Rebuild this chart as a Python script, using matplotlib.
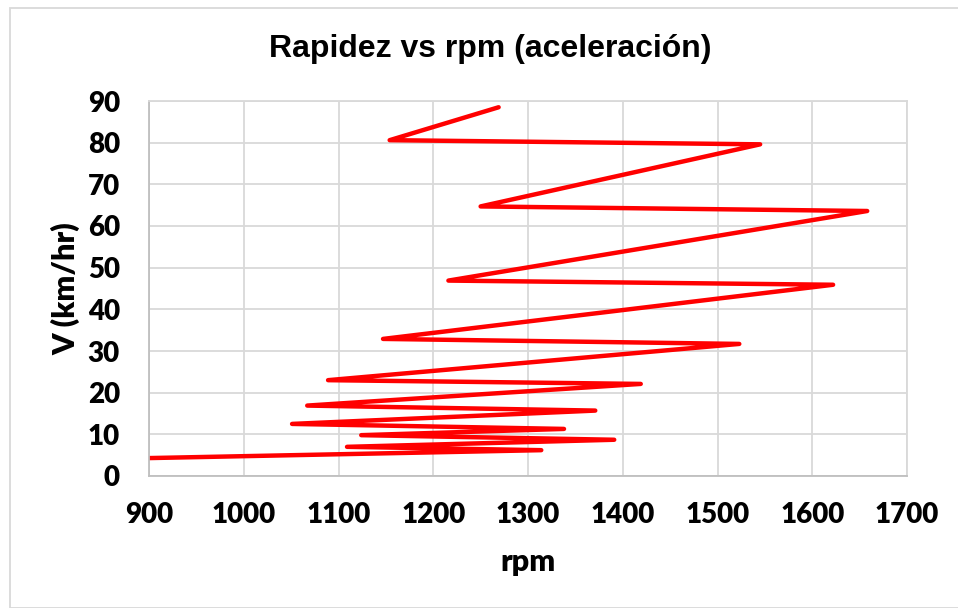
import matplotlib
matplotlib.use("Agg")
import matplotlib.pyplot as plt
from matplotlib.patches import Rectangle

# rpm vs speed readings, in the order they are joined
rpm = [900, 1314, 1109, 1391, 1124, 1338, 1051, 1371, 1067, 1419,
       1089, 1523, 1147, 1622, 1216, 1658, 1250, 1545, 1154, 1269]
speed = [4.3, 6.2, 7.0, 8.7, 9.8, 11.3, 12.5, 15.7, 16.9, 22.1,
         23.0, 31.7, 32.9, 45.9, 46.9, 63.6, 64.7, 79.6, 80.6, 88.5]

x_ticks = list(range(900, 1701, 100))
y_ticks = list(range(0, 91, 10))

fig = plt.figure(figsize=(9.58, 6.08), dpi=100)
ax = fig.add_axes([149 / 958, 132 / 608, 758 / 958, 375 / 608])

ax.plot(rpm, speed, color="#ff0000", linewidth=3.2,
        solid_joinstyle="round", solid_capstyle="round", clip_on=True)

ax.set_xlim(900, 1700)
ax.set_ylim(0, 90)
ax.set_xticks(x_ticks)
ax.set_yticks(y_ticks)
ax.grid(True, color="#d9d9d9", linewidth=1.3)
ax.set_axisbelow(True)
for side in ["top", "right"]:
    ax.spines[side].set_color("#d9d9d9")
    ax.spines[side].set_linewidth(1.3)
for side in ["left", "bottom"]:
    ax.spines[side].set_color("#bfbfbf")
    ax.spines[side].set_linewidth(1.3)

ax.tick_params(axis="x", length=0, pad=19)
ax.tick_params(axis="y", length=0, pad=21)
for lbl in ax.get_xticklabels() + ax.get_yticklabels():
    lbl.set_fontfamily("Lato")
    lbl.set_fontweight("heavy")
    lbl.set_fontsize(20)

ax.set_xlabel("rpm", fontfamily="Lato", fontweight="heavy", fontsize=22)
ax.set_ylabel("V (km/hr)", fontfamily="Lato", fontweight="heavy", fontsize=22)
ax.xaxis.set_label_coords(0.5, (476 - 548) / 375)
ax.yaxis.set_label_coords((80 - 149) / 758, 0.5)

fig.text(490 / 958, 1 - 49 / 608, "Rapidez vs rpm (aceleración)",
         ha="center", va="center", fontfamily="Liberation Sans",
         fontweight="bold", fontsize=23)

# chart area border
fig.patches.append(Rectangle((10 / 958, 0), 1, 1 - 8 / 608, transform=fig.transFigure,
                             fill=False, edgecolor="#d9d9d9", linewidth=1.3))

fig.savefig("out.png", dpi=100)
